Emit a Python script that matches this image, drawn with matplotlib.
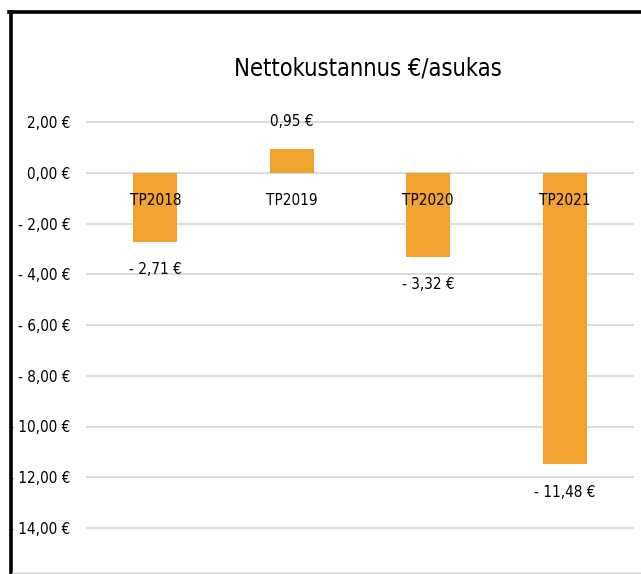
import matplotlib.pyplot as plt
from matplotlib.lines import Line2D

# Chart data
categories = ['TP2018', 'TP2019', 'TP2020', 'TP2021']
values = [-2.71, 0.95, -3.32, -11.48]
y_ticks = [2, 0, -2, -4, -6, -8, -10, -12, -14]

bar_color = '#F0A330'
plt.rcParams['font.family'] = ['DejaVu Sans']
plt.rcParams['font.stretch'] = 'condensed'


def euro(v):
    # Excel style: "- 2,00 €"
    s = f'{abs(v):.2f}'.replace('.', ',') + ' €'
    if v < 0:
        s = '- ' + s
    return s


W, H = 641, 574
fig = plt.figure(figsize=(W / 100, H / 100), dpi=100)

# axes placed so that 2 -> y=122 px and -14 -> y=528 px
left, right = 87, 633
top, bottom = 122, 528
ax = fig.add_axes([left / W, 1 - bottom / H, (right - left) / W, (bottom - top) / H])
ax.set_ylim(-14, 2)
ax.set_xlim(-0.5, len(categories) - 0.5)

for t in y_ticks:
    ax.axhline(t, color='#d9d9d9', lw=1.3, zorder=0, clip_on=False)

x = range(len(categories))
ax.bar(x, values, width=0.32, color=bar_color, zorder=2)

ax.set_yticks(y_ticks)
ax.set_yticklabels([euro(t) for t in y_ticks], fontsize=11, color='#000000')
ax.tick_params(axis='y', length=0, pad=12)
ax.set_xticks([])
for s in ax.spines.values():
    s.set_visible(False)

# category labels just below the zero line
for i, c in enumerate(categories):
    ax.annotate(c, (i, 0), textcoords='offset pixels', xytext=(0, -28),
                ha='center', va='center', fontsize=11, zorder=3)

# value labels
for i, v in enumerate(values):
    off = 27 if v > 0 else -28
    ax.annotate(euro(v), (i, v), textcoords='offset pixels', xytext=(0, off),
                ha='center', va='center', fontsize=11, zorder=3)

fig.text(368 / W, 1 - 68 / H, 'Nettokustannus €/asukas', ha='center', va='center',
         fontsize=17)

# chart frame (partially cropped in the picture)
fig.add_artist(Line2D([9 / W, 1], [1 - 12 / H, 1 - 12 / H], color='black', lw=2.6,
                      transform=fig.transFigure))
fig.add_artist(Line2D([10.5 / W, 10.5 / W], [1 - 12 / H, 0], color='black', lw=2.6,
                      transform=fig.transFigure))
fig.add_artist(Line2D([12 / W, 1], [1 - 573 / H, 1 - 573 / H], color='#c8c8c8', lw=1,
                      transform=fig.transFigure))

fig.savefig('out.png', dpi=100)
